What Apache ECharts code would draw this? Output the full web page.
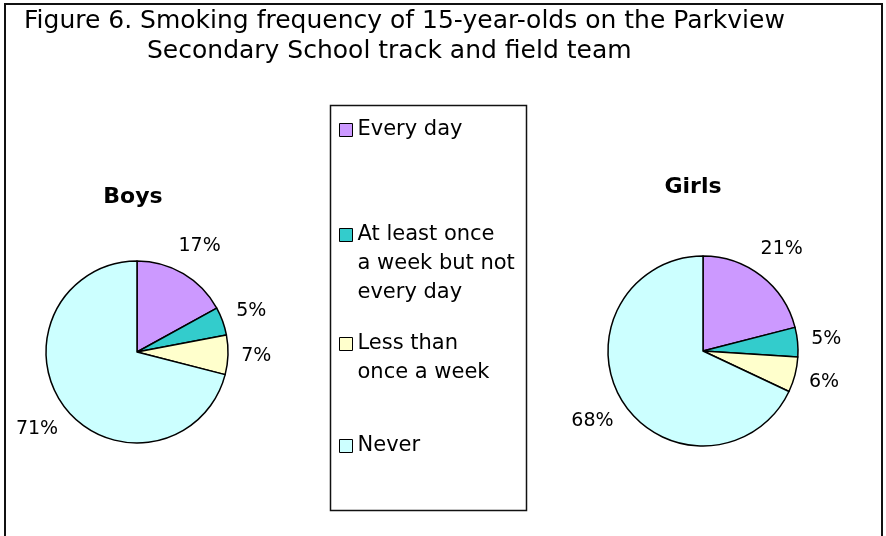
<!DOCTYPE html>
<html>
<head>
<meta charset="utf-8">
<script src="https://cdn.jsdelivr.net/npm/echarts@6/dist/echarts.min.js"></script>
<style>
  html, body { margin: 0; padding: 0; background: #ffffff; }
  #chart { width: 886px; height: 536px; }
</style>
</head>
<body>
<div id="chart"></div>
<script>
// ---- data ----
const categories = ['Every day', 'At least once a week but not every day', 'Less than once a week', 'Never'];
const legendText = ['Every day', 'At least once\na week but not\nevery day', 'Less than\nonce a week', 'Never'];
const boysValues = [17, 5, 7, 71];
const girlsValues = [21, 5, 6, 68];
const groupNames = ['Boys', 'Girls'];
const titleLines = ['Figure 6. Smoking frequency of 15-year-olds on the Parkview', 'Secondary School track and field team'];
const palette = ['#CC99FF', '#33CCCC', '#FFFFCC', '#CCFFFF'];

// ---- layout ----
const FONT = 'DejaVu Sans';
const boysCenter = [137, 352], boysRadius = 91;
const girlsCenter = [703, 351], girlsRadius = 95;
const legendMarkerY = [130, 235, 344, 446];
const legendLineHeight = 29;

function makeLabelLayout(values, center, r) {
  const total = values.reduce((a, b) => a + b, 0);
  return function (p) {
    let before = 0;
    for (let i = 0; i < p.dataIndex; i++) before += values[i];
    const frac = (before + values[p.dataIndex] / 2) / total;
    const ang = frac * 2 * Math.PI;
    const ux = Math.sin(ang), uy = -Math.cos(ang);
    const w = p.labelRect.width, h = p.labelRect.height;
    const d = r + 13 + Math.abs(ux) * w / 2 + Math.abs(uy) * h / 2;
    return { x: center[0] + ux * d, y: center[1] + uy * d, align: 'center', verticalAlign: 'middle' };
  };
}

function pieSeries(name, values, center, r) {
  return {
    name: name,
    type: 'pie',
    center: center,
    radius: r,
    startAngle: 90,
    clockwise: true,
    silent: true,
    animation: false,
    avoidLabelOverlap: false,
    label: {
      show: true,
      position: 'inside',
      formatter: '{c}%',
      color: '#000',
      fontFamily: FONT,
      fontSize: 19
    },
    labelLine: { show: false },
    labelLayout: makeLabelLayout(values, center, r),
    itemStyle: { borderColor: '#000', borderWidth: 1.5 },
    emphasis: { disabled: true },
    data: categories.map((c, i) => ({ name: c, value: values[i] }))
  };
}

function legendFor(i) {
  const lines = legendText[i].split('\n').length;
  const total = 2 * lines - 1;
  return {
    data: [categories[i]],
    orient: 'vertical',
    left: 339,
    top: legendMarkerY[i] - total * legendLineHeight / 2,
    padding: 0,
    itemWidth: 13,
    itemHeight: 13,
    icon: 'rect',
    selectedMode: false,
    itemStyle: { borderColor: '#000', borderWidth: 1 },
    textStyle: { fontFamily: FONT, fontSize: 21, color: '#000', lineHeight: legendLineHeight },
    formatter: function () {
      return '\n'.repeat(lines - 1) + legendText[i];
    }
  };
}

const chart = echarts.init(document.getElementById('chart'), null, { renderer: 'canvas' });
chart.setOption({
  animation: false,
  backgroundColor: '#ffffff',
  color: palette,
  title: [
    { text: titleLines[0], left: 24, top: 9, padding: 0,
      textStyle: { fontFamily: FONT, fontSize: 25, fontWeight: 'normal', color: '#000' } },
    { text: titleLines[1], left: 147, top: 39, padding: 0,
      textStyle: { fontFamily: FONT, fontSize: 25, fontWeight: 'normal', color: '#000' } },
    { text: groupNames[0], left: 133, top: 186, padding: 0, textAlign: 'center',
      textStyle: { fontFamily: FONT, fontSize: 22, fontWeight: 'bold', color: '#000' } },
    { text: groupNames[1], left: 693, top: 176, padding: 0, textAlign: 'center',
      textStyle: { fontFamily: FONT, fontSize: 22, fontWeight: 'bold', color: '#000' } }
  ],
  legend: categories.map((c, i) => legendFor(i)),
  graphic: [
    { type: 'rect', silent: true, z: -1,
      shape: { x: 5, y: 4, width: 877, height: 560 },
      style: { fill: 'none', stroke: '#111', lineWidth: 2 } },
    { type: 'rect', silent: true, z: -1,
      shape: { x: 330.5, y: 105.5, width: 196, height: 405 },
      style: { fill: 'none', stroke: '#111', lineWidth: 1.5 } }
  ],
  series: [
    pieSeries(groupNames[0], boysValues, boysCenter, boysRadius),
    pieSeries(groupNames[1], girlsValues, girlsCenter, girlsRadius)
  ]
});
</script>
</body>
</html>
